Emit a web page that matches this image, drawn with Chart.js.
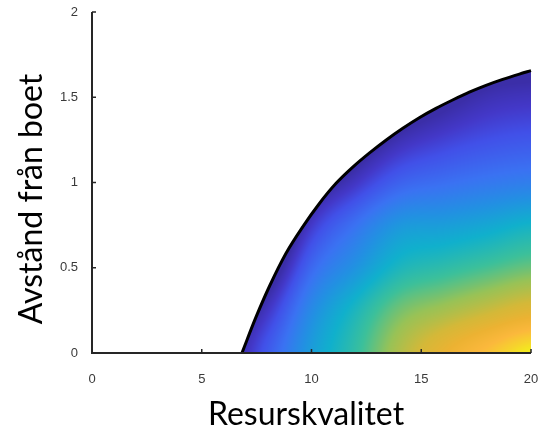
<!DOCTYPE html>
<html lang="sv">
<head>
<meta charset="utf-8">
<title>Avstånd från boet / Resurskvalitet</title>
<script src="https://cdn.jsdelivr.net/npm/chart.js@4.4.1/dist/chart.umd.min.js"></script>
<style>
  html, body { margin: 0; padding: 0; background: #fff; }
  #wrap { width: 538px; height: 430px; }
</style>
</head>
<body>
<div id="wrap"><canvas id="chart" width="538" height="430"></canvas></div>
<script>
/* Foraging boundary: distance from nest vs resource quality */

// ── Data ─────────────────────────────────────────────────────

const CURVE_X = [6.83, 7.47, 8.08, 8.84, 9.60, 10.36, 11.12, 11.88, 12.63, 13.39,
                 14.16, 14.91, 15.67, 16.43, 17.19, 17.95, 18.71, 19.47, 20];
const CURVE_Y = [0, 0.21, 0.39, 0.585, 0.74, 0.877, 0.995, 1.09, 1.172, 1.248,
                 1.318, 1.38, 1.435, 1.484, 1.53, 1.57, 1.605, 1.636, 1.656];

const X_TICKS = [0, 5, 10, 15, 20];
const Y_TICKS = [0, 0.5, 1, 1.5, 2];

// colour field under the curve: 0 = dark blue at the edge, 1 = yellow corner
const FIELD_X = [6, 8, 10, 12, 14, 16, 18, 20];
const FIELD_Y = [0, 0.25, 0.5, 0.75, 1, 1.25, 1.5, 1.75];
const FIELD_V = [
  [-0.05,  0.15,  0.36,  0.50,  0.66,  0.79,  0.90,  1.00],
  [-0.15,  0.05,  0.30,  0.45,  0.58,  0.64,  0.70,  0.76],
  [-0.30, -0.10,  0.19,  0.33,  0.45,  0.49,  0.53,  0.57],
  [-0.40, -0.25,  0.06,  0.22,  0.34,  0.36,  0.39,  0.43],
  [-0.50, -0.40, -0.10,  0.05,  0.17,  0.21,  0.24,  0.26],
  [-0.60, -0.50, -0.25, -0.10,  0.02,  0.08,  0.12,  0.14],
  [-0.70, -0.60, -0.40, -0.25, -0.12, -0.04,  0.02,  0.04],
  [-0.80, -0.70, -0.50, -0.40, -0.25, -0.15, -0.08, -0.06]
];

// ── Colour map (parula-like) ─────────────────────────────────

const CMAP_POS = [0, 0.06, 0.12, 0.22, 0.32, 0.42, 0.52, 0.62, 0.72, 0.80, 0.88, 0.95, 1];
const CMAP_HEX = ['#3b2ea8', '#4338c8', '#4150e8', '#3a72f2', '#2290e2', '#10b0cc', '#3cc09a',
                  '#98c256', '#d4b838', '#ecb232', '#fbb83c', '#f6d42c', '#f2f01a'];
const CMAP_RGB = CMAP_HEX.map(h => [1, 3, 5].map(i => parseInt(h.slice(i, i + 2), 16)));

const TICK_FONT = { family: "'Liberation Sans', Arial, sans-serif", size: 13 };
const TITLE_FONT = "32px Lato, 'Open Sans', sans-serif";

function cmap(v) {
  v = Math.max(0, Math.min(1, v));
  let k = 0;
  while (k < CMAP_POS.length - 2 && v > CMAP_POS[k + 1]) k++;
  const t = (v - CMAP_POS[k]) / (CMAP_POS[k + 1] - CMAP_POS[k]);
  const a = CMAP_RGB[k], b = CMAP_RGB[k + 1];
  return [0, 1, 2].map(i => Math.round(a[i] + (b[i] - a[i]) * t));
}

// grid cell index and fraction along an axis
function locate(arr, v) {
  let i = 0;
  while (i < arr.length - 2 && v > arr[i + 1]) i++;
  const t = Math.max(0, Math.min(1, (v - arr[i]) / (arr[i + 1] - arr[i])));
  return [i, t];
}

// Catmull-Rom weights, so the shading has no kinks at grid lines
function crWeights(t) {
  const t2 = t * t, t3 = t2 * t;
  return [
    0.5 * (-t3 + 2 * t2 - t),
    0.5 * (3 * t3 - 5 * t2 + 2),
    0.5 * (-3 * t3 + 4 * t2 + t),
    0.5 * (t3 - t2)
  ];
}

function fieldValue(x, y) {
  const [i, tx] = locate(FIELD_X, x);
  const [j, ty] = locate(FIELD_Y, y);
  const wx = crWeights(tx), wy = crWeights(ty);
  const nx = FIELD_X.length - 1, ny = FIELD_Y.length - 1;
  let v = 0;
  for (let b = 0; b < 4; b++) {
    const row = FIELD_V[Math.max(0, Math.min(ny, j - 1 + b))];
    let r = 0;
    for (let a = 0; a < 4; a++) r += wx[a] * row[Math.max(0, Math.min(nx, i - 1 + a))];
    v += wy[b] * r;
  }
  return v;
}

// ── Plugin: colour field, axes with inward ticks, titles ─────

const fieldPlugin = {
  id: 'field',
  beforeDatasetsDraw(chart) {
    const meta = chart.getDatasetMeta(0);
    const pts = meta.data;
    const xs = chart.scales.x, ys = chart.scales.y;
    const base = ys.getPixelForValue(0);
    const x0 = Math.floor(pts[0].x), x1 = Math.ceil(pts[pts.length - 1].x);
    const y0 = Math.floor(Math.min(...pts.map(p => p.y))) - 2, y1 = Math.ceil(base);
    const w = x1 - x0, h = y1 - y0;

    const off = document.createElement('canvas');
    off.width = w; off.height = h;
    const octx = off.getContext('2d');
    const img = octx.createImageData(w, h);
    for (let py = 0; py < h; py++) {
      const yv = ys.getValueForPixel(y0 + py + 0.5);
      for (let px = 0; px < w; px++) {
        const xv = xs.getValueForPixel(x0 + px + 0.5);
        const c = cmap(fieldValue(xv, yv));
        const k = (py * w + px) * 4;
        img.data[k] = c[0]; img.data[k + 1] = c[1]; img.data[k + 2] = c[2]; img.data[k + 3] = 255;
      }
    }
    octx.putImageData(img, 0, 0);

    // clip to the area under the (smoothed) boundary line
    const line = meta.dataset;
    line.updateControlPoints(chart.chartArea, 'x');
    const ctx = chart.ctx;
    ctx.save();
    ctx.beginPath();
    line.path(ctx);
    ctx.lineTo(pts[pts.length - 1].x, base);
    ctx.lineTo(pts[0].x, base);
    ctx.closePath();
    ctx.clip();
    ctx.drawImage(off, x0, y0);
    ctx.restore();
  },
  afterDraw(chart) {
    const ctx = chart.ctx;
    const a = chart.chartArea;
    const xs = chart.scales.x, ys = chart.scales.y;
    ctx.save();
    ctx.strokeStyle = '#262626';
    ctx.lineWidth = 2;
    ctx.beginPath();
    ctx.moveTo(a.left, ys.getPixelForValue(2));
    ctx.lineTo(a.left, a.bottom);
    ctx.lineTo(xs.getPixelForValue(20), a.bottom);
    ctx.stroke();
    // inward ticks
    ctx.lineWidth = 1.5;
    ctx.beginPath();
    X_TICKS.forEach(v => {
      const x = xs.getPixelForValue(v);
      ctx.moveTo(x, a.bottom); ctx.lineTo(x, a.bottom - 4);
    });
    Y_TICKS.forEach(v => {
      const y = ys.getPixelForValue(v);
      ctx.moveTo(a.left, y); ctx.lineTo(a.left + 4, y);
    });
    ctx.stroke();

    // axis titles
    ctx.fillStyle = '#000';
    ctx.font = TITLE_FONT;
    ctx.textAlign = 'center';
    ctx.textBaseline = 'alphabetic';
    ctx.fillText('Resurskvalitet', 306, 425);
    ctx.translate(42, 199);
    ctx.rotate(-Math.PI / 2);
    ctx.fillText('Avstånd från boet', 0, 0);
    ctx.restore();
  }
};

function noOverhang(s) {
  s.paddingLeft = 0; s.paddingRight = 0; s.paddingTop = 0; s.paddingBottom = 0;
}

// ── Chart ────────────────────────────────────────────────────

new Chart(document.getElementById('chart'), {
  type: 'scatter',
  data: {
    datasets: [{
      data: CURVE_X.map((x, i) => ({ x: x, y: CURVE_Y[i] })),
      showLine: true,
      cubicInterpolationMode: 'monotone',
      borderColor: '#000',
      borderWidth: 3,
      pointRadius: 0,
      fill: false,
      clip: false
    }]
  },
  options: {
    responsive: false,
    animation: false,
    devicePixelRatio: 1,
    layout: { padding: { top: 12, right: 7, left: 0, bottom: 0 } },
    plugins: { legend: { display: false }, tooltip: { enabled: false } },
    scales: {
      x: {
        type: 'linear', min: 0, max: 20,
        afterBuildTicks: s => { s.ticks = X_TICKS.map(v => ({ value: v })); },
        afterFit: s => { s.height = 77; noOverhang(s); },
        grid: { display: false },
        border: { display: false },
        ticks: { color: '#3a3a3a', font: TICK_FONT, padding: 11, maxRotation: 0, autoSkip: false,
                 callback: v => String(v) }
      },
      y: {
        type: 'linear', min: 0, max: 2,
        afterBuildTicks: s => { s.ticks = Y_TICKS.map(v => ({ value: v })); },
        afterFit: s => { s.width = 92; noOverhang(s); },
        grid: { display: false },
        border: { display: false },
        ticks: { color: '#3a3a3a', font: TICK_FONT, padding: 6, autoSkip: false,
                 callback: v => String(v) }
      }
    }
  },
  plugins: [fieldPlugin]
});
</script>
</body>
</html>
